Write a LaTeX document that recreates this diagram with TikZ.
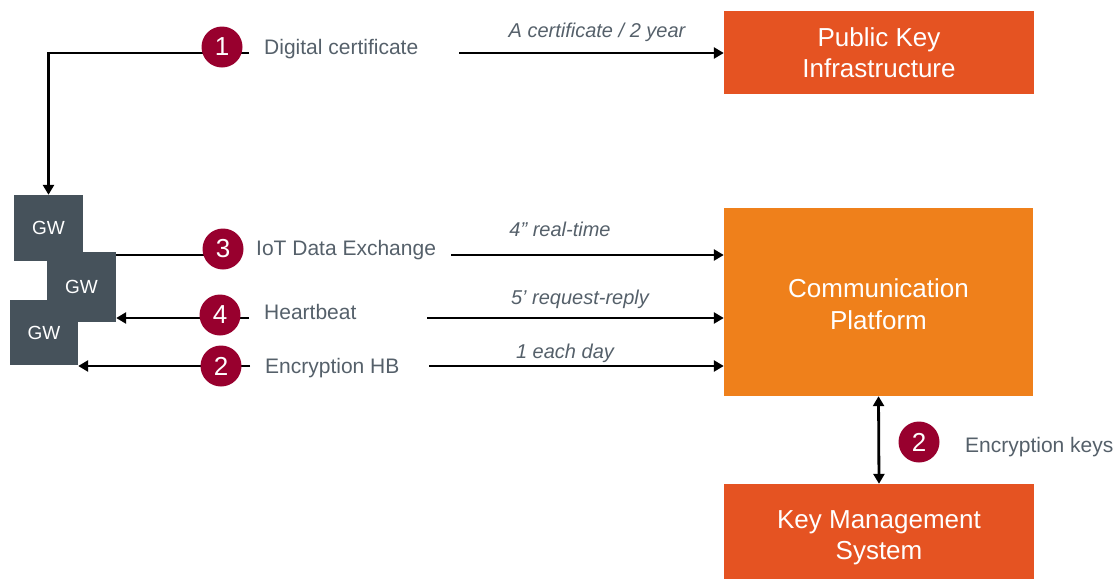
\documentclass[tikz,border=0pt]{standalone}
\usepackage{fontspec}
\setmainfont{Liberation Sans}
\usetikzlibrary{arrows.meta}
\definecolor{pkiorange}{HTML}{E55322}
\definecolor{comorange}{HTML}{EF801B}
\definecolor{numred}{HTML}{98002E}
\definecolor{gwgray}{HTML}{46525B}
\definecolor{txtgray}{HTML}{55606A}
\begin{document}
\begin{tikzpicture}[x=1pt,y=-1pt,
  bigbox/.style={rectangle, inner sep=0pt, text=white, align=center,
    font=\fontsize{26}{31.5}\selectfont, minimum width=310pt},
  boxtext/.style={inner sep=0pt, text=white, align=center,
    font=\fontsize{26}{31.5}\selectfont},
  gwbox/.style={rectangle, fill=gwgray, inner sep=0pt, text=white,
    font=\fontsize{19}{23}\selectfont},
  num/.style={circle, fill=numred, text=white, minimum size=41pt, inner sep=0pt,
    font=\fontsize{26}{26}\selectfont},
  lbl/.style={text=txtgray, font=\fontsize{21}{25}\selectfont, inner sep=0pt, anchor=base west},
  rate/.style={text=txtgray, font=\fontsize{20}{24}\selectfont\itshape, inner sep=0pt, anchor=base},
  conn/.style={line width=2.8pt},
  arr/.style={conn, -{Triangle[length=10pt,width=11pt]}},
  darr/.style={conn, {Triangle[length=10pt,width=11pt]}-{Triangle[length=10pt,width=11pt]}}
]
\useasboundingbox (0,0) rectangle (1114,579);

% big boxes
\node[bigbox, fill=pkiorange, minimum height=83pt] (pki) at (879,52.5) {Public Key\\Infrastructure};
\node[bigbox, fill=comorange, minimum height=188pt, minimum width=309pt] (com) at (878.5,302) {};
\node[boxtext] (comt) at (878.5,304) {Communication\\Platform};
\node[bigbox, fill=pkiorange, minimum height=95pt] (kms) at (879,531.5) {};
\node[boxtext] (kmst) at (879,537.5) {Key Management\\System};

% gateways
\node[gwbox, minimum width=69pt, minimum height=66pt] (gw1) at (48.5,228) {GW};
\node[gwbox, minimum width=68pt, minimum height=65pt] (gw3) at (44,332.5) {GW};
\node[gwbox, minimum width=69pt, minimum height=70pt] (gw2) at (81.5,287) {GW};

% connector anchor coordinates
\coordinate (s1) at (249,53);
\coordinate (r1) at (459,53);
\coordinate (s3) at (222,255);
\coordinate (r3) at (451,255);
\coordinate (s4) at (249,318);
\coordinate (r4) at (427,318);
\coordinate (s2) at (250,366);
\coordinate (r2) at (429,366);

% connectors
\draw[arr] (s1) -| (gw1.north);
\draw[arr] (r1) -- (r1 -| pki.west);
\draw[conn] (s3) -- (s3 -| gw2.east);
\draw[arr] (r3) -- (r3 -| com.west);
\draw[arr] (s4) -- (s4 -| gw2.east);
\draw[arr] (r4) -- (r4 -| com.west);
\draw[arr] (s2) -- (s2 -| gw3.east);
\draw[arr] (r2) -- (r2 -| com.west);
\draw[darr] (com.south) -- (kms.north);

% numbered circles
\node[num] (c1) at (222,47) {1};
\node[num] (c3) at (223,249) {3};
\node[num] (c4) at (220,315) {4};
\node[num] (c2) at (221,366) {2};
\node[num] (c2b) at (919,442) {2};

% labels
\node[lbl] (t1) at (264,54) {Digital certificate};
\node[lbl] (t3) at (256,255) {IoT Data Exchange};
\node[lbl] (t4) at (264,319) {Heartbeat};
\node[lbl] (t2) at (265,373) {Encryption HB};
\node[lbl] (t2b) at (965,452) {Encryption keys};

\node[rate] (q1) at (597,37) {A certificate / 2 year};
\node[rate] (q3) at (560,236) {4” real-time};
\node[rate] (q4) at (580,304) {5’ request-reply};
\node[rate] (q2) at (565,358) {1 each day};
\end{tikzpicture}
\end{document}
